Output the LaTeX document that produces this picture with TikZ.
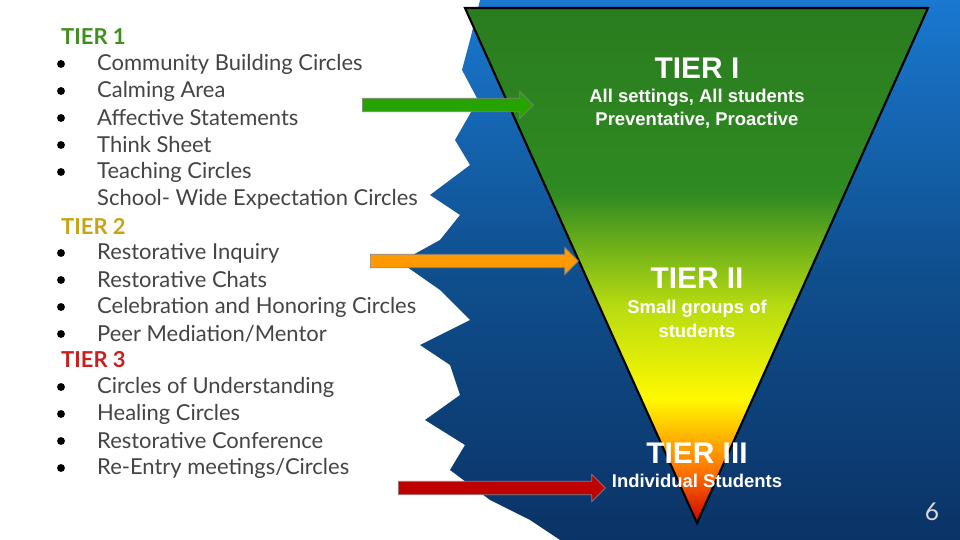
\documentclass[tikz,border=0pt]{standalone}
\usepackage{fontspec}
\setmainfont{Lato}
\newfontfamily\arialfont{Liberation Sans}
\usetikzlibrary{shapes.arrows,positioning}
\definecolor{tiergreen}{HTML}{3F8F1F}
\definecolor{tiergold}{HTML}{C9A215}
\definecolor{tierred}{HTML}{C8201E}
\definecolor{listgray}{HTML}{444444}
\definecolor{navy}{HTML}{0B3366}
\definecolor{midblue}{HTML}{0F4F8E}
\definecolor{skyblue}{HTML}{1A78D0}
\definecolor{triggreen}{HTML}{2F8A22}
\definecolor{limegreen}{HTML}{B8DC10}
\pgfdeclareverticalshading{tiershade}{100bp}{%
  color(0bp)=(red!80!black);
  color(25bp)=(red!80!black);
  color(30bp)=(orange!90!red);
  color(37bp)=(yellow!95!orange);
  color(46bp)=(limegreen);
  color(57bp)=(triggreen);
  color(75bp)=(triggreen!90!black);
  color(100bp)=(triggreen!90!black)}
\pgfdeclareverticalshading{bgshade}{100bp}{%
  color(0bp)=(navy);
  color(25bp)=(navy);
  color(50bp)=(midblue);
  color(75bp)=(skyblue);
  color(100bp)=(skyblue)}
\tikzset{
  head/.style={font=\bfseries\fontsize{12.5}{12.5}\selectfont, anchor=west},
  item/.style={font=\fontsize{12.5}{12.5}\selectfont, text=listgray, anchor=west},
  dot/.style={circle, fill=black, inner sep=0pt, minimum size=4.5pt},
  tiername/.style={font=\arialfont\bfseries\fontsize{17}{17}\selectfont, text=white},
  tiersub/.style={font=\arialfont\bfseries\fontsize{10.5}{10.5}\selectfont, text=white},
  fatarrow/.style={single arrow, draw=black!50, line width=0.4pt,
    minimum height=#1, inner xsep=0pt, inner ysep=3.6pt,
    single arrow head extend=4pt, anchor=west},
}
\begin{document}
\begin{tikzpicture}[x=0.02cm,y=-0.02cm]
  \useasboundingbox (0,0) rectangle (960,540);
  % background splash
  \shade[shading=bgshade] (960,0) -- (480,0) -- (470,40) -- (462,70) -- (478,100)
    -- (455,140) -- (470,165) -- (430,195) -- (460,215) -- (440,240) -- (400,262)
    -- (440,290) -- (470,320) -- (420,345) -- (450,365) -- (460,395) -- (425,420)
    -- (465,445) -- (450,470) -- (490,500) -- (530,520) -- (560,540) -- (960,540) -- cycle;
  % triangle
  \begin{scope}
    \clip (465,8) -- (928,8) -- (697,523) -- cycle;
    \shade[shading=tiershade] (465,8) rectangle (928,523);
  \end{scope}
  \draw[line width=1.2pt] (465,8) -- (928,8) -- (697,523) -- cycle;
  % tier labels
  \node[tiername] (t1) at (697,68) {TIER I};
  \node[tiersub] (t1a) at (697,98) {All settings, All students};
  \node[tiersub] (t1b) at (697,120) {Preventative, Proactive};
  \node[tiername] (t2) at (697,278) {TIER II};
  \node[tiersub] (t2a) at (697,309) {Small groups of};
  \node[tiersub] (t2b) at (697,331) {students};
  \node[tiername] (t3) at (697,453) {TIER III};
  \node[tiersub] (t3a) at (697,481) {Individual Students};
  \node[font=\fontsize{14}{14}\selectfont, text=white!85!black] (pg) at (932,512) {6};
  % list
  \node[head, text=tiergreen] (h1) at (55,37) {TIER 1};
  \foreach \txt [count=\i] in {Community Building Circles, Calming Area,
      Affective Statements, Think Sheet, Teaching Circles}
    {\node[item] at (91,37+27*\i) {\txt};
     \node[dot] at (61,37+27*\i) {};}
  \node[item] (sw) at (91,199) {School- Wide Expectation Circles};
  \node[head, text=tiergold] (h2) at (55,226) {TIER 2};
  \foreach \txt [count=\i] in {Restorative Inquiry, Restorative Chats,
      Celebration and Honoring Circles, Peer Mediation/Mentor}
    {\node[item] at (91,226+27*\i) {\txt};
     \node[dot] at (61,226+27*\i) {};}
  \node[head, text=tierred] (h3) at (55,360) {TIER 3};
  \foreach \txt [count=\i] in {Circles of Understanding, Healing Circles,
      Restorative Conference, Re-Entry meetings/Circles}
    {\node[item] at (91,360+27*\i) {\txt};
     \node[dot] at (61,360+27*\i) {};}
  % arrows
  \node[fatarrow=171*0.02cm, fill=green!55!black!80!lime] (a1) at (362,105) {};
  \node[fatarrow=208*0.02cm, fill=orange!80!yellow] (a2) at (370,261) {};
  \node[fatarrow=207*0.02cm, fill=red!75!black] (a3) at (398,488) {};
\end{tikzpicture}
\end{document}
